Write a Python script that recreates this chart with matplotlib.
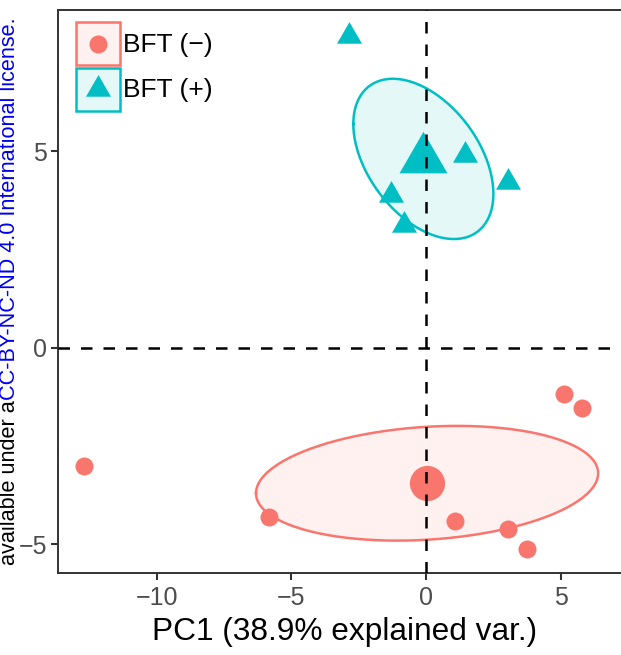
import numpy as np
import matplotlib
matplotlib.use("Agg")
import matplotlib.pyplot as plt
from matplotlib.patches import Patch, Rectangle
from matplotlib.lines import Line2D
from matplotlib.legend_handler import HandlerBase

plt.rcParams['font.family'] = ['Liberation Sans', 'DejaVu Sans']

# PCA scores per group
neg_pc1 = [-12.69, -5.82, 1.08, 3.03, 3.74, 5.14, 5.80]
neg_pc2 = [-3.00, -4.31, -4.40, -4.60, -5.11, -1.17, -1.53]
pos_pc1 = [-2.86, 1.45, 3.04, -1.30, -0.82]
pos_pc2 = [7.94, 4.90, 4.21, 3.88, 3.12]

groups = ["BFT (\u2212)", "BFT (+)"]
colors = ["#F8766D", "#00BFC4"]

# ellipse shape per group: x half-extent, y half-extent, correlation
ell_sx = [6.35, 2.60]
ell_sy = [1.46, 2.04]
ell_rho = [0.174, -0.436]

xticks = [-10, -5, 0, 5]
yticks = [-5, 0, 5]


class BoxKeyHandler(HandlerBase):
    """Legend key: tinted square with the marker in its centre."""

    def create_artists(self, legend, orig_handle, xdescent, ydescent,
                       width, height, fontsize, trans):
        box, mark = orig_handle
        rect = Rectangle((-xdescent, -ydescent), width, height,
                         facecolor=box.get_facecolor(), edgecolor=box.get_edgecolor(),
                         lw=box.get_linewidth(), transform=trans)
        pt = Line2D([-xdescent + width / 2], [-ydescent + height / 2],
                    marker=mark.get_marker(), color=mark.get_color(), ls='none',
                    markersize=mark.get_markersize(), mew=0, transform=trans)
        return [rect, pt]


W, H = 621, 655
fig = plt.figure(figsize=(W / 100, H / 100), dpi=100)
xlim = (-13.66, 7.6)
ylim = (-5.73, 8.6)
px_x = 26.94
ax = fig.add_axes([58 / W, 82 / H, (xlim[1] - xlim[0]) * px_x / W, 563 / H])
ax.set_xlim(*xlim)
ax.set_ylim(*ylim)

# triangle centred on its centroid, like R's pch 17
tri = [(0, 1.5551), (1.3468, -0.7776), (-1.3468, -0.7776), (0, 1.5551)]

data = [(neg_pc1, neg_pc2, 'o', 168, 640), (pos_pc1, pos_pc2, tri, 432, 1590)]
t = np.linspace(-np.pi, np.pi, 200)
for i, (xs, ys, mk, s_small, s_big) in enumerate(data):
    cx, cy = np.mean(xs), np.mean(ys)
    ex = cx + ell_sx[i] * np.cos(t)
    ey = cy + ell_sy[i] * (ell_rho[i] * np.cos(t) + np.sqrt(1 - ell_rho[i] ** 2) * np.sin(t))
    ax.fill(ex, ey, color=colors[i], alpha=0.1, lw=0, zorder=1)
    ax.plot(ex, ey, color=colors[i], lw=1.8, zorder=2)
    ax.scatter(xs, ys, s=s_small, marker=mk, color=colors[i], lw=0, zorder=4)
    ax.scatter([cx], [cy], s=s_big, marker=mk, color=colors[i], lw=0, zorder=4)

ax.axhline(0, color='black', lw=1.8, ls=(0, (4.6, 4.4)), zorder=3)
ax.axvline(0, color='black', lw=1.8, ls=(0, (4.6, 4.4)), zorder=5)

ax.set_xticks(xticks)
ax.set_yticks(yticks)
ax.set_xticklabels([str(v).replace('-', '\u2212') for v in xticks])
ax.set_yticklabels([str(v).replace('-', '\u2212') for v in yticks])
ax.tick_params(length=5, width=1.5, color='#333333', labelcolor='#4D4D4D',
               labelsize=18, pad=3)
ax.tick_params(axis='x', pad=4.5)
for sp in ax.spines.values():
    sp.set_color('#333333')
    sp.set_linewidth(1.4)
ax.set_xlabel("PC1 (38.9% explained var.)", fontsize=22.8, color='black', labelpad=5)

handles = []
for i, mk in enumerate(['o', tri]):
    box = Patch(facecolor=matplotlib.colors.to_rgba(colors[i], 0.1),
                edgecolor=colors[i], lw=1.8)
    ms = 13 if i == 0 else 20.8
    mark = Line2D([], [], marker=mk, color=colors[i], ls='none', markersize=ms, mew=0)
    handles.append((box, mark))
leg = ax.legend(handles, groups, handler_map={tuple: BoxKeyHandler()},
                loc='upper left', bbox_to_anchor=(76 / W, 1 - 22 / H),
                bbox_transform=fig.transFigure, frameon=False, fontsize=19,
                handlelength=1.68, handleheight=2.13, handletextpad=0.1,
                labelspacing=0.1, borderpad=0, borderaxespad=0)

# licence note along the left edge
t1 = fig.text(10 / W, 1 - 565 / H, "available under a", rotation=90, fontsize=15.6,
              color='black', ha='center', va='bottom')
fig.canvas.draw()
bb = t1.get_window_extent()
fig.text(10 / W, bb.y1 / H, "CC-BY-NC-ND 4.0 International license.", rotation=90,
         fontsize=15.6, color='#0000EE', ha='center', va='bottom')

fig.savefig("out.png", dpi=100)
